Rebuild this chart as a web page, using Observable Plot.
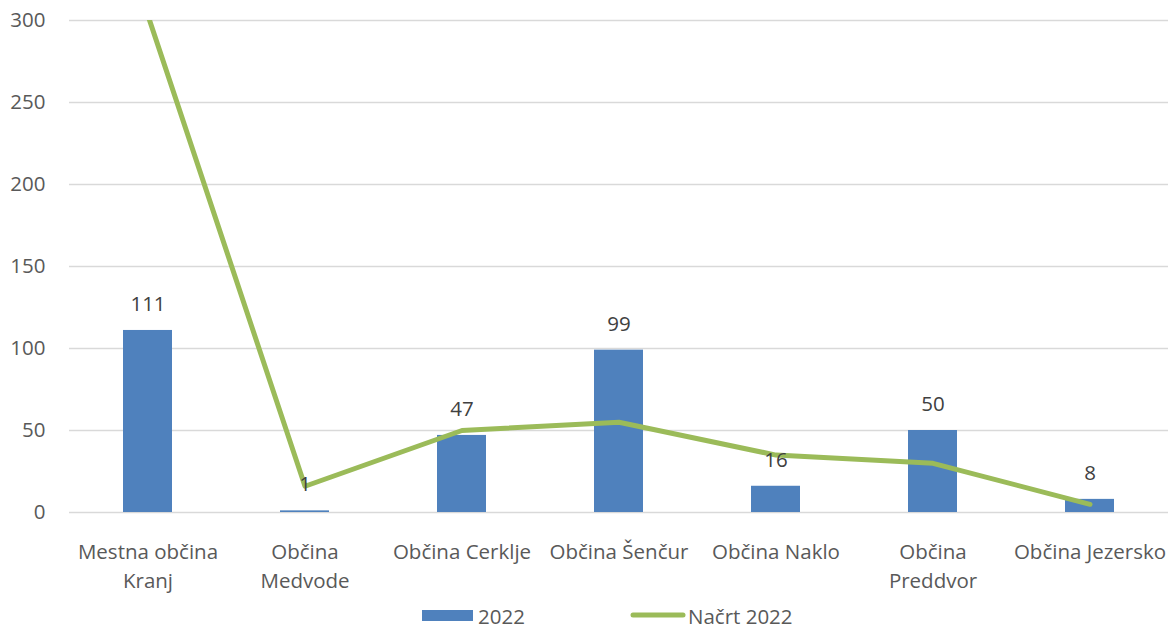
<!DOCTYPE html>
<html>
<head>
<meta charset="utf-8">
<script src="https://cdn.jsdelivr.net/npm/d3@7"></script>
<script src="https://cdn.jsdelivr.net/npm/@observablehq/plot@0.6"></script>
<style>
  html, body { margin: 0; padding: 0; background: #fff; }
  body { width: 1175px; height: 628px; position: relative; overflow: hidden; font-family: "Open Sans", sans-serif; }
  #legend { position: absolute; left: 0; top: 595px; width: 1175px; height: 33px; }
  .lg { position: absolute; font-size: 20.5px; color: #595959; line-height: 20px; }
</style>
</head>
<body>
<div id="chart"></div>
<div id="legend">
  <div style="position:absolute;left:422px;top:15px;width:51px;height:11px;background:#4F81BD"></div>
  <div class="lg" style="left:478px;top:11px">2022</div>
  <svg style="position:absolute;left:625px;top:14px" width="66" height="12"><line x1="8" y1="6" x2="58" y2="6" stroke="#9BBB59" stroke-width="5" stroke-linecap="round"/></svg>
  <div class="lg" style="left:688px;top:11px">Načrt 2022</div>
</div>
<script>
const categories = ["Mestna občina Kranj", "Občina Medvode", "Občina Cerklje", "Občina Šenčur", "Občina Naklo", "Občina Preddvor", "Občina Jezersko"];
const tickLabels = ["Mestna občina\nKranj", "Občina\nMedvode", "Občina Cerklje", "Občina Šenčur", "Občina Naklo", "Občina\nPreddvor", "Občina Jezersko"];
const values2022 = [111, 1, 47, 99, 16, 50, 8];
const plan2022 = [303, 16, 50, 55, 35, 30, 5];
const yTicks = [0, 50, 100, 150, 200, 250, 300];

const bars = categories.map((c, i) => ({cat: c, v: values2022[i]}));
const line = categories.map((c, i) => ({cat: c, v: plan2022[i]}));

const chart = Plot.plot({
  width: 1175,
  height: 595,
  marginTop: 20,
  marginBottom: 83,
  marginLeft: 69,
  marginRight: 7,
  style: {fontFamily: "'Open Sans', sans-serif", fontSize: "20.5px", background: "#fff", overflow: "visible"},
  x: {domain: categories, paddingInner: 0.69, paddingOuter: 0.345, label: null},
  y: {domain: [0, 300], label: null},
  marks: [
    Plot.gridY(yTicks, {stroke: "#d9d9d9", strokeOpacity: 1, strokeWidth: 1.5}),
    Plot.barY(bars, {x: "cat", y: "v", fill: "#4F81BD"}),
    Plot.line(line, {x: "cat", y: "v", stroke: "#9BBB59", strokeWidth: 5, strokeLinejoin: "round", strokeLinecap: "round", clip: true}),
    Plot.text(bars, {x: "cat", y: "v", text: d => String(d.v), dy: -26, fill: "#404040", fontSize: 20.5}),
    Plot.axisY(yTicks, {tickSize: 0, tickPadding: 24, fill: "#595959", fontSize: 20.5, label: null}),
    Plot.axisX({tickSize: 0, tickPadding: 25, fill: "#595959", fontSize: 20.5, lineHeight: 1.45, label: null,
      tickFormat: d => tickLabels[categories.indexOf(d)]})
  ]
});
document.getElementById("chart").appendChild(chart);
</script>
</body>
</html>
